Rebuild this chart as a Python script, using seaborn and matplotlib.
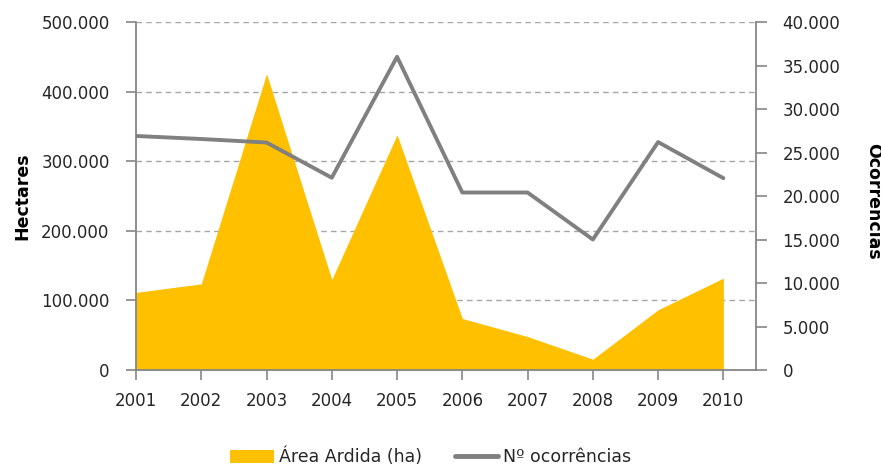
import matplotlib
matplotlib.use("Agg")
import matplotlib.pyplot as plt
import matplotlib.ticker as ticker
from matplotlib.patches import Patch
from matplotlib.lines import Line2D
import seaborn as sns
import pandas as pd

# data
years = [2001, 2002, 2003, 2004, 2005, 2006, 2007, 2008, 2009, 2010]
areaArdida = [111500, 123800, 425700, 130000, 338000, 74000, 48000, 15500, 86500, 132000]
ocorrencias = [26900, 26550, 26150, 22100, 36000, 20400, 20400, 15000, 26200, 22050]

leftTicks = [0, 100000, 200000, 300000, 400000, 500000]
rightTicks = [0, 5000, 10000, 15000, 20000, 25000, 30000, 35000, 40000]

df = pd.DataFrame({"Ano": years, "Área Ardida (ha)": areaArdida, "Nº ocorrências": ocorrencias})

sns.set_theme(style="white")
plt.rcParams['font.family'] = ['DejaVu Sans']

areaColor = "#FFC000"
lineColor = "#808080"
axisColor = "#868686"
textColor = "#262626"


def dotThousands(v, pos):
    return "{:,.0f}".format(v).replace(",", ".")


fig = plt.figure(figsize=(8.81, 4.65), dpi=100)
ax = fig.add_axes([136 / 881, 1 - 370 / 465, (756 - 136) / 881, (370 - 22) / 465])
ax2 = ax.twinx()

ax.fill_between(df["Ano"], df["Área Ardida (ha)"], 0, color=areaColor, linewidth=0, zorder=2)
sns.lineplot(data=df, x="Ano", y="Nº ocorrências", ax=ax2, color=lineColor, linewidth=2.8, legend=False)

ax.set_xlim(2001, 2010.5)
ax.set_ylim(0, 500000)
ax2.set_ylim(0, 40000)
ax.set_xticks(years)
ax.set_yticks(leftTicks)
ax2.set_yticks(rightTicks)
ax.yaxis.set_major_formatter(ticker.FuncFormatter(dotThousands))
ax2.yaxis.set_major_formatter(ticker.FuncFormatter(dotThousands))

ax.set_axisbelow(True)
ax.yaxis.grid(True, color="#A6A6A6", linestyle=(0, (4, 3)), linewidth=1.0)
ax.xaxis.grid(False)
ax2.grid(False)

for a in (ax, ax2):
    a.spines["top"].set_visible(False)
    for s in ("left", "right", "bottom"):
        a.spines[s].set_color(axisColor)
        a.spines[s].set_linewidth(1.3)
ax.spines["right"].set_visible(False)
ax2.spines["left"].set_visible(False)
ax2.spines["bottom"].set_visible(False)

ax.tick_params(axis="x", direction="out", length=7, width=1.2, color=axisColor, pad=9,
               labelsize=12, labelcolor=textColor, bottom=True)
ax.tick_params(axis="y", direction="out", length=7, width=1.2, color=axisColor, pad=12,
               labelsize=12, labelcolor=textColor, left=True)
ax2.tick_params(axis="y", direction="out", length=8, width=1.2, color=axisColor, pad=11,
                labelsize=12, labelcolor=textColor, right=True)

ax.set_xlabel("")
ax2.set_ylabel("")
fig.text(22 / 881, 1 - 196 / 465, "Hectares", rotation=90, ha="center", va="center",
         fontsize=12.5, fontweight="bold", color="black")
fig.text(873 / 881, 1 - 201 / 465, "Ocorrências", rotation=-90, ha="center", va="center",
         fontsize=12.5, fontweight="bold", color="black")

handles = [Patch(facecolor=areaColor, edgecolor="none"),
           Line2D([0], [0], color=lineColor, linewidth=3.5)]
fig.legend(handles, ["Área Ardida (ha)", "Nº ocorrências"], loc="center",
           bbox_to_anchor=(0.489, 1 - 457 / 465), ncol=2, frameon=False, fontsize=12.5,
           handlelength=2.5, handleheight=0.8, handletextpad=0.3, columnspacing=1.9,
           labelcolor=textColor)

fig.savefig("out.png", dpi=100)
